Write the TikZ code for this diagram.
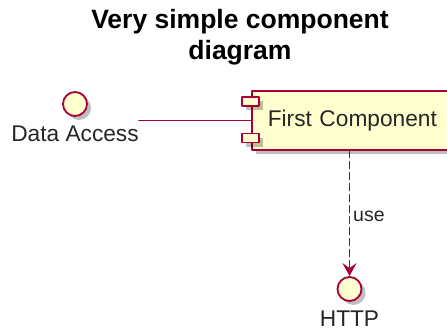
\documentclass[tikz,border=0pt]{standalone}
\usepackage{fontspec}
\setmainfont{Liberation Sans}
\usetikzlibrary{arrows.meta,positioning,shadows}
\definecolor{umlfill}{HTML}{FEFECE}
\definecolor{umlline}{HTML}{A80036}
\definecolor{umltext}{HTML}{000000}

\begin{document}
\begin{tikzpicture}[
  x=1pt, y=-1pt, line cap=round, line join=round,
  shd/.style={drop shadow={shadow xshift=4pt, shadow yshift=-4pt,
              opacity=0.25, fill=black}},
  ttl/.style={font=\fontsize{26.5}{31}\selectfont\bfseries, text=umltext,
              align=center, inner sep=0pt},
  comp/.style={draw=umlline, fill=umlfill, line width=1.6pt, shd,
              minimum width=222pt, minimum height=59pt, inner xsep=14pt,
              anchor=north west, align=left, text width=190pt,
              font=\fontsize{22.7}{25}\selectfont, text=umltext!85},
  port/.style={draw=umlline, fill=umlfill, line width=1.6pt, shd},
  iface/.style={circle, draw=umlline, fill=umlfill, line width=1.8pt,
              minimum size=24pt, inner sep=0pt, shd},
  ilab/.style={font=\fontsize{22.7}{25}\selectfont, text=umltext!85,
              inner sep=0pt},
  lnk/.style={umlline, line width=1.4pt},
  use/.style={lnk, dash pattern=on 7pt off 4pt,
              -{Stealth[length=13pt, width=14pt, inset=5pt]}},
  elab/.style={font=\fontsize{19.5}{22}\selectfont, text=umltext!85,
              inner sep=0pt, anchor=west}]

\useasboundingbox (0,0) rectangle (447,331);

% ---------------------------------------------------------------- title
\node[ttl, anchor=north] (title) at (240,9) {Very simple component\\diagram};

% ---------------------------------------------------------------- component
\node[comp] (first) at (251,90) {First Component};
\draw[port] ([xshift=-9pt, yshift=-7pt]first.north west) rectangle ++(17,9);
\draw[port] ([xshift=-9pt, yshift=8pt]first.south west) rectangle ++(17,-9);

% ---------------------------------------------------------------- interfaces
\node[iface] (da) at (75,104) {};
\node[ilab, below=9pt of da] (dalab) {Data Access};

\node[iface] (http) at (349.5,289) {};
\node[ilab, below=9pt of http] (httplab) {HTTP};

% ---------------------------------------------------------------- links
\draw[lnk] (dalab.east |- first.west) -- (first.west);
\draw[use] (http.north |- first.south) -- node[elab, pos=0.52, xshift=3pt] {use} (http.north);

\end{tikzpicture}
\end{document}
